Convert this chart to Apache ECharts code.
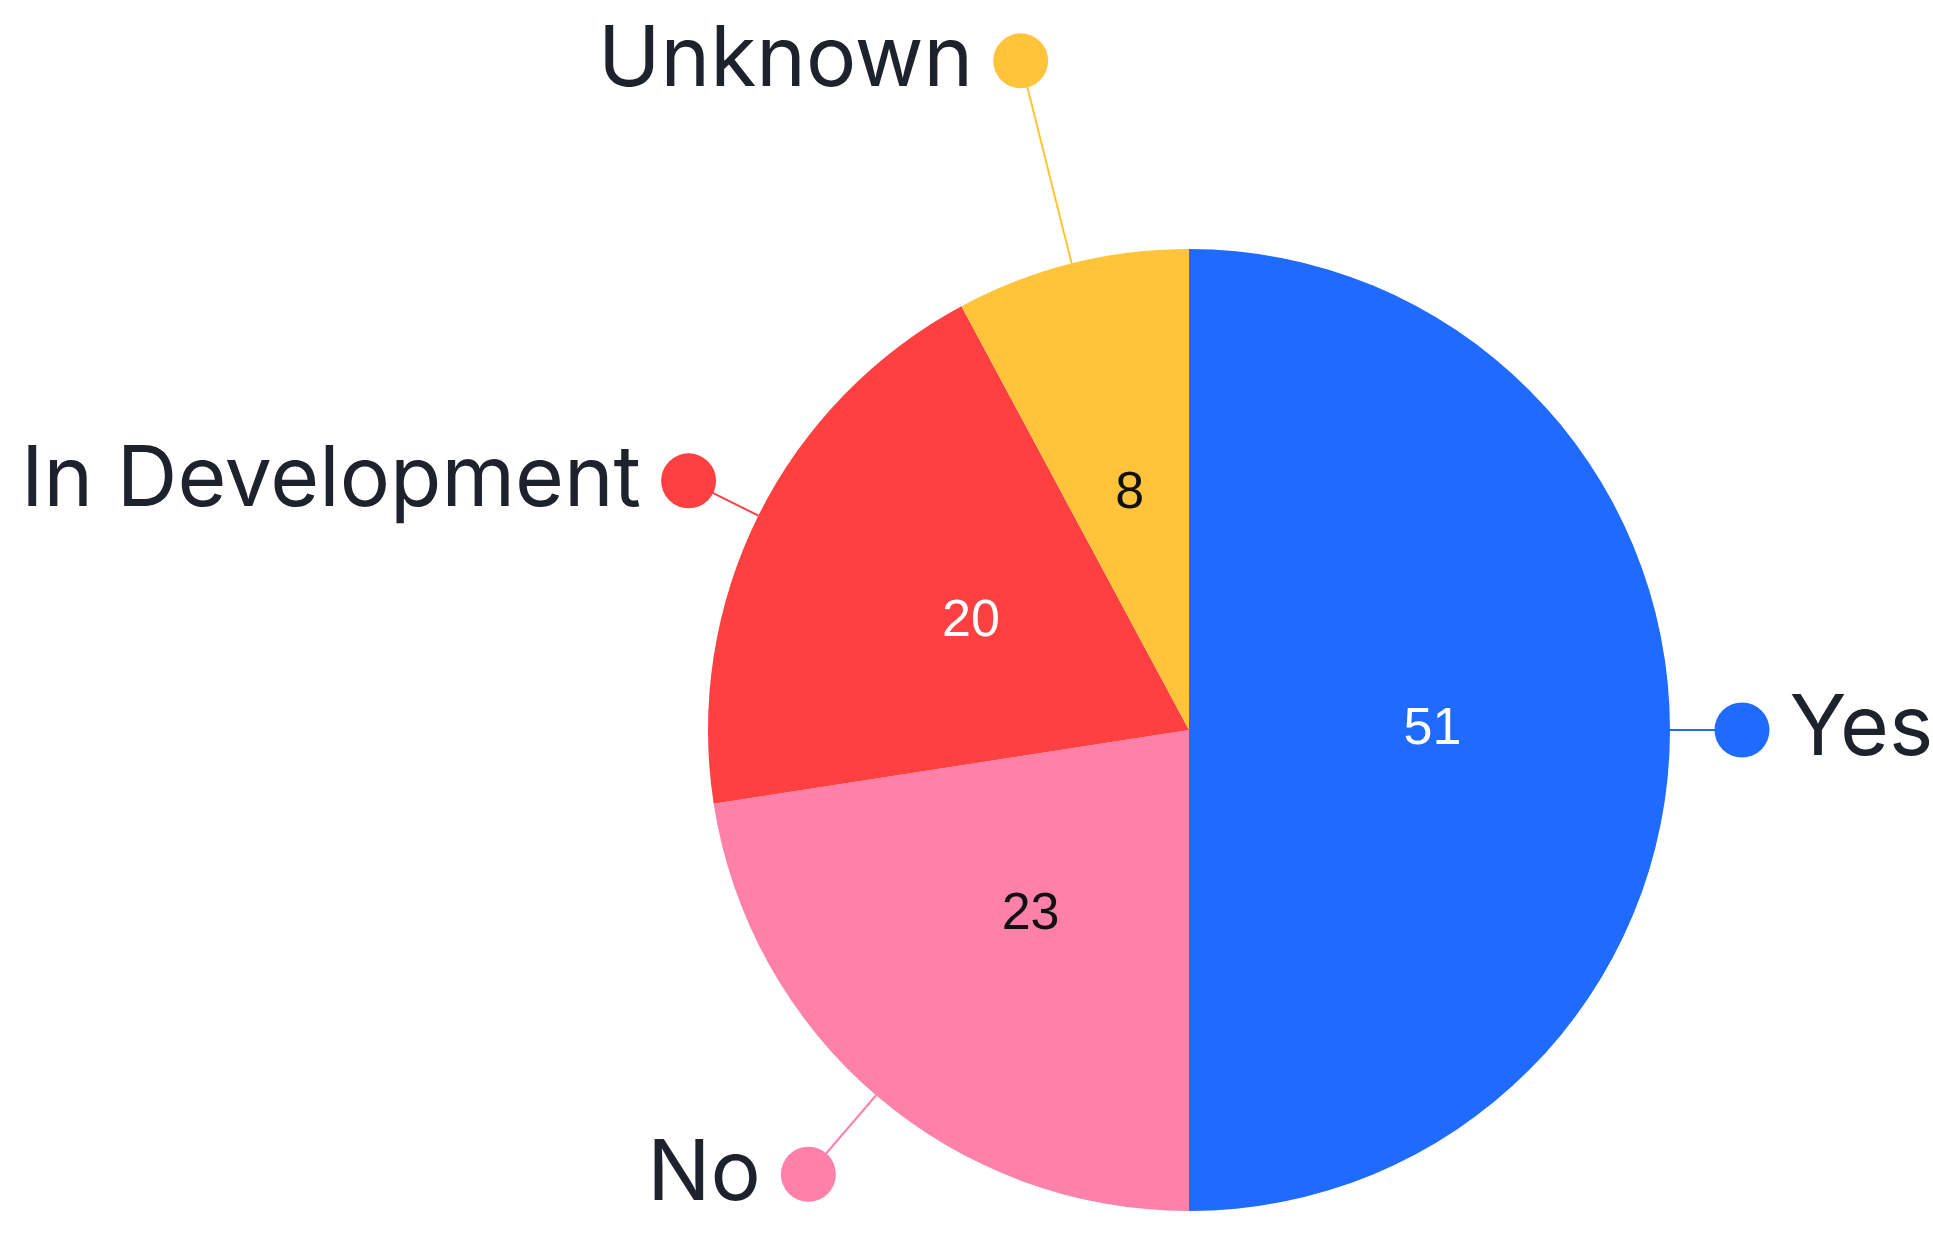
<!DOCTYPE html>
<html>
<head>
<meta charset="utf-8">
<title>Pie chart</title>
<script src="https://cdn.jsdelivr.net/npm/echarts@6/dist/echarts.min.js"></script>
<style>
  html, body { margin: 0; padding: 0; background: #ffffff; }
  #chart { width: 1933px; height: 1234px; }
</style>
</head>
<body>
<div id="chart"></div>
<script>
// Categories and their counts, in clockwise order from 12 o'clock
const categories = ['Yes', 'No', 'In Development', 'Unknown'];
const values = [51, 23, 20, 8];

// Slice colours and the colour of the count printed inside each slice
const sliceColors = ['#1F6BFF', '#FF80A9', '#FF4040', '#FFC43A'];
const countColors = ['#FFFFFF', '#111111', '#FFFFFF', '#111111'];

// Leader line length (px) from the rim to the label dot
const leaderLengths = [72, 104, 78, 209];

const DOT = 55;
const CENTER = [1189, 730];
const RADIUS = 481;

function outerLabel(i) {
  const c = sliceColors[i];
  const mid = (values.slice(0, i).reduce((a, b) => a + b, 0) + values[i] / 2) /
              values.reduce((a, b) => a + b, 0);
  const onLeft = mid > 0.5;
  return {
    formatter: onLeft ? '{name|{b}}{gap|}{dot|}' : '{dot|}{gap|}{name|{b}}',
    rich: {
      name: {
        fontFamily: 'Inter',
        fontSize: 84,
        fontWeight: 400,
        color: '#1E222D',
        lineHeight: 90,
        verticalAlign: 'middle'
      },
      gap: { width: 20, height: DOT },
      dot: {
        width: DOT,
        height: DOT,
        borderRadius: DOT / 2,
        backgroundColor: c,
        verticalAlign: 'middle'
      }
    }
  };
}

const chart = echarts.init(document.getElementById('chart'), null, { renderer: 'canvas' });

chart.setOption({
  backgroundColor: '#ffffff',
  animation: false,
  series: [
    {
      // slices with their named, dotted call-outs
      type: 'pie',
      center: CENTER,
      radius: RADIUS,
      startAngle: 90,
      clockwise: true,
      avoidLabelOverlap: false,
      silent: true,
      label: {
        position: 'outer',
        alignTo: 'none',
        distanceToLabelLine: -DOT / 2
      },
      labelLine: {
        show: true,
        length2: 0,
        smooth: false,
        lineStyle: { width: 2 }
      },
      itemStyle: { borderWidth: 0 },
      data: categories.map((name, i) => ({
        name: name,
        value: values[i],
        itemStyle: { color: sliceColors[i] },
        label: outerLabel(i),
        labelLine: { length: leaderLengths[i], lineStyle: { color: sliceColors[i] } }
      }))
    },
    {
      // counts printed inside each slice
      type: 'pie',
      center: CENTER,
      radius: RADIUS,
      startAngle: 90,
      clockwise: true,
      silent: true,
      label: {
        position: 'inside',
        formatter: '{c}',
        fontFamily: 'Liberation Sans',
        fontSize: 52,
        fontWeight: 400
      },
      labelLine: { show: false },
      itemStyle: { color: 'transparent', borderWidth: 0 },
      data: categories.map((name, i) => ({
        name: name,
        value: values[i],
        label: { color: countColors[i] }
      }))
    }
  ]
});
</script>
</body>
</html>
